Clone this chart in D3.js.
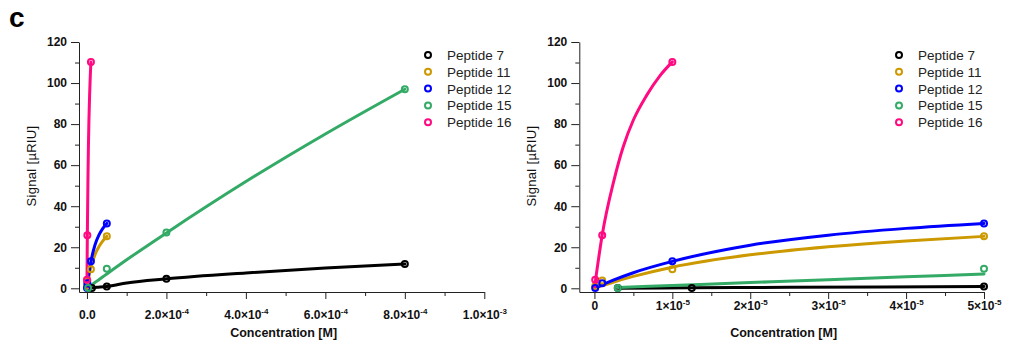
<!DOCTYPE html>
<html>
<head>
<meta charset="utf-8">
<script src="https://cdn.jsdelivr.net/npm/d3@7"></script>
<style>
  html, body { margin: 0; padding: 0; background: #fff; }
  svg { display: block; }
  .tick text { font-family: "Liberation Sans", Arial, sans-serif; font-weight: bold; font-size: 12px; fill: #111; }
</style>
</head>
<body>
<svg id="chart" width="1011" height="347"></svg>
<script>
// ---------------- DATA ----------------
const peptideNames = ["Peptide 7", "Peptide 11", "Peptide 12", "Peptide 15", "Peptide 16"];
const peptideColors = ["#000000", "#CC9900", "#0000FF", "#33AA66", "#FF0A80"];

// measured points (concentration [M], signal [µRIU])
const p7Conc   = [3e-6, 1.25e-5, 5e-5, 2e-4, 8e-4];
const p7Signal = [0.1, 0.1, 0.9, 4.7, 11.8];
const p11Conc   = [1e-7, 1e-6, 1e-5, 5e-5];
const p11Signal = [1.0, 3.8, 9.3, 25.4];
const p12Conc   = [1e-7, 1e-6, 1e-5, 5e-5];
const p12Signal = [0.2, 2.5, 13.2, 31.6];
const p15Conc   = [3e-6, 5e-5, 2e-4, 8e-4];
const p15Signal = [0.2, 9.5, 27.2, 97.0];
const p16Conc   = [1e-7, 1e-6, 1e-5];
const p16Signal = [4.2, 25.8, 110.3];

// fitted curves
const p7FitConc   = [3e-6, 1.25e-5, 2.5e-5, 5e-5, 1e-4, 2e-4, 4e-4, 6e-4, 8e-4];
const p7FitSignal = [0.05, 0.3, 0.5, 0.9, 2.6, 4.6, 7.5, 9.9, 11.8];
const p11FitConc   = [0, 1e-6, 2.5e-6, 5e-6, 1e-5, 2e-5, 3e-5, 4e-5, 5e-5];
const p11FitSignal = [0, 1.3, 3.1, 5.8, 10.3, 16.3, 20.2, 23.1, 25.3];
const p12FitConc   = [0, 1e-6, 2.5e-6, 5e-6, 1e-5, 2e-5, 3e-5, 4e-5, 5e-5];
const p12FitSignal = [0, 1.7, 4.1, 7.6, 13.1, 21.0, 25.9, 29.2, 31.6];
const p15FitConc   = [3e-6, 1e-5, 2e-5, 3e-5, 4e-5, 5e-5, 1e-4, 2e-4, 4e-4, 6e-4, 8e-4];
const p15FitSignal = [0.4, 1.4, 2.8, 4.2, 5.6, 7.0, 13.9, 27.0, 52.0, 75.2, 97.0];
const p16FitConc   = [0, 1e-6, 2.5e-6, 3.7e-6, 5e-6, 6.7e-6, 8.4e-6, 1e-5];
const p16FitSignal = [0, 26.0, 52.5, 69.0, 82.0, 94.0, 103.5, 110.3];

// axes ticks
const yTickValues = [0, 20, 40, 60, 80, 100, 120];
const yMinorValues = [10, 30, 50, 70, 90, 110];
const leftXTickValues = [0, 2e-4, 4e-4, 6e-4, 8e-4, 1e-3];
const leftXTickMantissa = ["0.0", "2.0", "4.0", "6.0", "8.0", "1.0"];
const leftXTickExponent = ["", "-4", "-4", "-4", "-4", "-3"];
const leftXMinorValues = [1e-4, 3e-4, 5e-4, 7e-4, 9e-4];
const rightXTickValues = [0, 1e-5, 2e-5, 3e-5, 4e-5, 5e-5];
const rightXTickMantissa = ["0", "1", "2", "3", "4", "5"];
const rightXTickExponent = ["", "-5", "-5", "-5", "-5", "-5"];
const rightXMinorValues = [0.5e-5, 1.5e-5, 2.5e-5, 3.5e-5, 4.5e-5];

const pointConc = [p7Conc, p11Conc, p12Conc, p15Conc, p16Conc];
const pointSignal = [p7Signal, p11Signal, p12Signal, p15Signal, p16Signal];
const fitConc = [p7FitConc, p11FitConc, p12FitConc, p15FitConc, p16FitConc];
const fitSignal = [p7FitSignal, p11FitSignal, p12FitSignal, p15FitSignal, p16FitSignal];

// ---------------- DRAW ----------------
const svg = d3.select("#chart");
const FONT = '"Liberation Sans", Arial, sans-serif';

svg.append("text").attr("x", 9).attr("y", 27)
  .attr("font-family", FONT).attr("font-weight", "bold").attr("font-size", 28)
  .text("c");

function drawPanel(cfg) {
  const x = d3.scaleLinear().domain(cfg.xDomain).range([cfg.left, cfg.right]);
  const y = d3.scaleLinear().domain([-1.8, 120]).range([292, 42]);
  const g = svg.append("g");

  // y axis
  const yAxis = g.append("g").attr("transform", `translate(${cfg.left},0)`)
    .call(d3.axisLeft(y).tickValues(yTickValues).tickSize(8).tickSizeOuter(0).tickPadding(4));
  g.append("g").attr("transform", `translate(${cfg.left},0)`)
    .call(d3.axisLeft(y).tickValues(yMinorValues).tickSize(4).tickFormat(""))
    .call(s => s.select(".domain").remove());
  yAxis.selectAll(".tick text").attr("font-size", 12.5);

  // x axis
  const xAxis = g.append("g").attr("transform", "translate(0,292)")
    .call(d3.axisBottom(x).tickValues(cfg.xTicks).tickSize(7).tickSizeOuter(0).tickPadding(cfg.xPad).tickFormat(""));
  g.append("g").attr("transform", "translate(0,292)")
    .call(d3.axisBottom(x).tickValues(cfg.xMinor).tickSize(4).tickFormat(""))
    .call(s => s.select(".domain").remove());
  xAxis.selectAll(".tick text").each(function(d, i) {
    const t = d3.select(this);
    t.append("tspan").text(cfg.mant[i] + (cfg.exp[i] ? "×10" : ""));
    if (cfg.exp[i]) {
      t.append("tspan").attr("dy", -5).attr("font-size", 8).text(cfg.exp[i]);
    }
  });
  g.selectAll(".domain, .tick line").attr("stroke", "#222");

  // axis titles
  g.append("text").attr("x", (cfg.left + cfg.right) / 2 + 2).attr("y", 337)
    .attr("text-anchor", "middle").attr("font-family", FONT).attr("font-weight", "bold")
    .attr("font-size", 12.5).attr("fill", "#111").text("Concentration [M]");
  g.append("text").attr("transform", `translate(${cfg.left - 43},166) rotate(-90)`)
    .attr("text-anchor", "middle").attr("font-family", FONT)
    .attr("font-size", 13).attr("fill", "#111").attr("letter-spacing", 0.3).text("Signal [µRIU]");

  const xmax = cfg.xDomain[1];
  const line = d3.line().x(d => x(d[0])).y(d => y(d[1])).curve(d3.curveMonotoneX);

  // curves
  peptideNames.forEach((name, k) => {
    const pts = fitConc[k].map((c, j) => [c, fitSignal[k][j]]).filter(p => p[0] <= xmax * 1.0001);
    g.append("path").datum(pts).attr("d", line)
      .attr("fill", "none").attr("stroke", peptideColors[k]).attr("stroke-width", 3)
      .attr("stroke-linejoin", "round").attr("stroke-linecap", "round");
  });
  // points
  peptideNames.forEach((name, k) => {
    const pts = pointConc[k].map((c, j) => [c, pointSignal[k][j]]).filter(p => p[0] <= xmax * 1.0001);
    g.selectAll(null).data(pts).enter().append("circle")
      .attr("cx", d => x(d[0])).attr("cy", d => y(d[1])).attr("r", 3)
      .attr("fill", "none").attr("stroke", peptideColors[k]).attr("stroke-width", 2);
  });

  // legend
  const lg = g.append("g");
  peptideNames.forEach((name, k) => {
    const cy = 55 + k * 16.8;
    lg.append("circle").attr("cx", cfg.legX).attr("cy", cy).attr("r", 3)
      .attr("fill", "none").attr("stroke", peptideColors[k]).attr("stroke-width", 2);
    lg.append("text").attr("x", cfg.legX + 19).attr("y", cy + 5)
      .attr("font-family", FONT).attr("font-size", 13.5).attr("fill", "#222").text(name);
  });
}

drawPanel({
  left: 79, right: 484.3, xDomain: [-2.0e-5, 1e-3],
  xTicks: leftXTickValues, xMinor: leftXMinorValues,
  mant: leftXTickMantissa, exp: leftXTickExponent, xPad: 11, legX: 428
});
drawPanel({
  left: 579.3, right: 984, xDomain: [-1.94e-6, 5e-5],
  xTicks: rightXTickValues, xMinor: rightXMinorValues,
  mant: rightXTickMantissa, exp: rightXTickExponent, xPad: 2, legX: 899
});
</script>
</body>
</html>
